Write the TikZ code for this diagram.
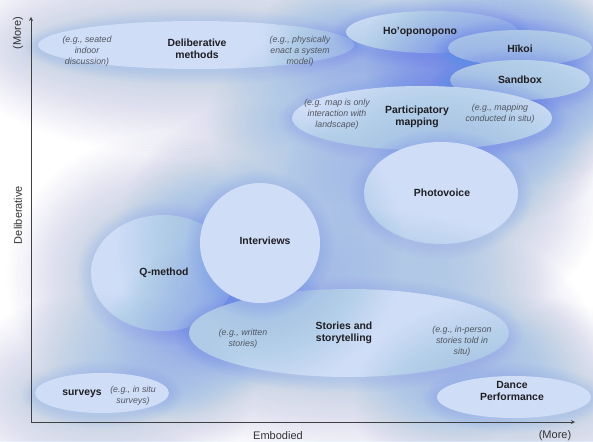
\documentclass[tikz,border=0pt]{standalone}
\usepackage{fontspec}
\setmainfont{Liberation Sans}
\begin{document}
\begin{tikzpicture}[x=1pt,y=-1pt,
  halo/.style={fill=glowblue,fill opacity=0.012,draw=none},
  rim/.style={fill=glowblue,fill opacity=0.022,draw=none},
  blobfill/.style={fill=blobblue,draw=none},
  title/.style={font=\fontsize{10.4}{12}\selectfont\bfseries,text=titlegray,align=center,inner sep=0pt},
  example/.style={font=\fontsize{8.8}{11}\selectfont\itshape,text=examplegray,align=center,inner sep=0pt},
  axislabel/.style={font=\fontsize{11}{13}\selectfont,text=black!80,inner sep=0pt},
  axis/.style={draw=black!75,line width=0.8pt,-stealth}]
\definecolor{glowblue}{RGB}{95,140,230}
\definecolor{blobblue}{RGB}{208,221,247}
\definecolor{titlegray}{RGB}{30,30,35}
\definecolor{examplegray}{RGB}{80,85,95}
\useasboundingbox (0,0) rectangle (593,441);
\fill[white] (0,0) rectangle (593,441);

% a soft-edged ellipse: wide faint glow, a tighter rim shadow, then a pale fill
\newcommand{\softblob}[5]{%
  \foreach \k in {28,...,1}{%
    \fill[halo] (#2,#3+3) ellipse ({#4+\k*3} and {#5+\k*3});}
  \foreach \k in {7,...,1}{%
    \fill[rim] (#2,#3+1.5) ellipse ({#4+\k*2} and {#5+\k*2});}
  \fill[blobfill] (#2,#3) ellipse ({#4} and {#5});
  \coordinate (#1) at (#2,#3);}

\softblob{delib}{196}{45}{158}{24}
\softblob{hoo}{432}{32}{86}{21}
\softblob{hikoi}{520}{48}{72}{18}
\softblob{sand}{520}{80}{70}{20}
\softblob{pmap}{422}{118}{130}{32}
\softblob{photo}{441}{193}{77}{51}
\softblob{qmeth}{163}{273}{72}{58}
\softblob{story}{349}{333}{160}{44}
\softblob{inter}{260}{243}{60}{60}
\softblob{dance}{514}{397}{77}{21}
\softblob{surv}{102}{393}{67}{20}

% axes
\coordinate (o) at (31,422);
\coordinate (ytop) at (31,17);
\coordinate (xend) at (575,422);
\draw[axis] (o) -- (ytop);
\draw[axis] (o) -- (xend);
\node[axislabel,rotate=90] (ymore) at (18,33) {(More)};
\node[axislabel,rotate=90] (ylab) at (18,215) {Deliberative};
\node[axislabel] (xlab) at (278,436) {Embodied};
\node[axislabel] (xmore) at (555,436) {(More)};

% labels
\node[example] (delibL) at (87,51) {(e.g., seated\\indoor\\discussion)};
\node[title] (delibT) at (197,49) {Deliberative\\methods};
\node[example] (delibR) at (300,51) {(e.g., physically\\enact a system\\model)};

\node[title] (hooT) at (420,32) {Ho'oponopono};
\node[title] (hikoiT) at (520,49) {Hīkoi};
\node[title] (sandT) at (520,80) {Sandbox};

\node[example] (pmapL) at (337,114) {(e.g. map is only\\interaction with\\landscape)};
\node[title] (pmapT) at (417,117) {Participatory\\mapping};
\node[example] (pmapR) at (500,114) {(e.g., mapping\\conducted in situ)};

\node[title] (photoT) at (442,193) {Photovoice};
\node[title] (interT) at (265,241) {Interviews};
\node[title] (qmethT) at (164,273) {Q-method};

\node[example] (storyL) at (243,339) {(e.g., written\\stories)};
\node[title] (storyT) at (344,333) {Stories and\\storytelling};
\node[example] (storyR) at (462,341) {(e.g., in-person\\stories told in\\situ)};

\node[title] (danceT) at (512,391) {Dance\\Performance};
\node[title] (survT) at (82,394) {surveys};
\node[example] (survR) at (133,396) {(e.g., in situ\\surveys)};
\end{tikzpicture}
\end{document}
